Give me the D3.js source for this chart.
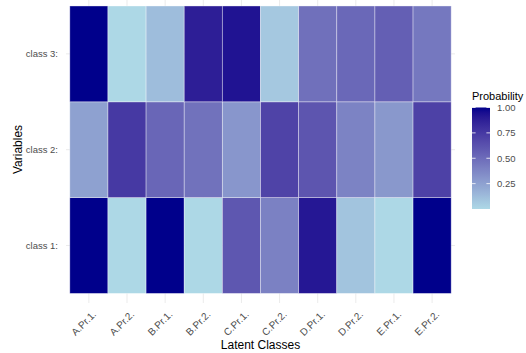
<!DOCTYPE html>
<html><head><meta charset="utf-8">
<script src="https://cdn.jsdelivr.net/npm/d3@7"></script>
<style>body{margin:0;background:#fff;}svg{display:block;font-family:"Liberation Sans",Arial,sans-serif;}</style>
</head><body>
<svg id="c" width="526" height="353"></svg>
<script>
const categories = ["A.Pr.1.","A.Pr.2.","B.Pr.1.","B.Pr.2.","C.Pr.1.","C.Pr.2.","D.Pr.1.","D.Pr.2.","E.Pr.1.","E.Pr.2."];
const classes = ["class 1:","class 2:","class 3:"];
const class1 = [1.00,0.00,1.00,0.00,0.60,0.40,0.91,0.09,0.00,1.00];
const class2 = [0.25,0.75,0.53,0.47,0.30,0.70,0.61,0.39,0.29,0.71];
const class3 = [1.00,0.00,0.12,0.88,0.93,0.07,0.48,0.52,0.56,0.44];
const legendTicks = [0.25,0.50,0.75,1.00];

const rows = [class1,class2,class3];
const cells = [];
rows.forEach((r,i)=>r.forEach((v,j)=>cells.push({x:categories[j],y:classes[i],v})));

const svg = d3.select("#c");
const panel = {l:66,r:455,t:-3.6,b:303};
const nX = categories.length, nY = classes.length;
const xs = d3.scaleLinear().domain([0.4,nX+0.6]).range([panel.l,panel.r]);
const ys = d3.scaleLinear().domain([0.4,nY+0.6]).range([panel.b,panel.t]);
const xi = d => categories.indexOf(d)+1;
const yi = d => classes.indexOf(d)+1;

const ext = d3.extent(cells, d=>d.v);
const color = d3.scaleLinear().domain(ext).range(["lightblue","darkblue"]).interpolate(d3.interpolateLab);

// gridlines
const g = svg.append("g");
categories.forEach(c=>g.append("line").attr("x1",xs(xi(c))).attr("x2",xs(xi(c))).attr("y1",panel.t).attr("y2",panel.b).attr("stroke","#ebebeb").attr("stroke-width",1));
classes.forEach(c=>g.append("line").attr("y1",ys(yi(c))).attr("y2",ys(yi(c))).attr("x1",panel.l).attr("x2",panel.r).attr("stroke","#ebebeb").attr("stroke-width",1));

// tiles
svg.append("g").selectAll("rect").data(cells).join("rect")
  .attr("x",d=>xs(xi(d.x)-0.5)).attr("width",xs(1.5)-xs(0.5))
  .attr("y",d=>ys(yi(d.y)+0.5)).attr("height",ys(0.5)-ys(1.5))
  .attr("fill",d=>color(d.v))
  .attr("stroke","rgba(255,255,255,0.45)").attr("stroke-width",0.8);

// y labels
svg.append("g").selectAll("text").data(classes).join("text")
  .attr("x",panel.l-8).attr("y",d=>ys(yi(d))).attr("dy","0.35em")
  .attr("text-anchor","end").attr("font-size",9.5).attr("fill","#4d4d4d").text(d=>d);

// x labels
svg.append("g").selectAll("text").data(categories).join("text")
  .attr("transform",d=>`translate(${xs(xi(d))+3},${panel.b+7}) rotate(-45)`)
  .attr("text-anchor","end").attr("dy","0.7em").attr("font-size",10).attr("fill","#4d4d4d").text(d=>d);

// axis titles
svg.append("text").attr("x",(panel.l+panel.r)/2).attr("y",349).attr("text-anchor","middle").attr("font-size",12).attr("fill","#000").text("Latent Classes");
svg.append("text").attr("transform",`translate(22,${(6+293)/2}) rotate(-90)`).attr("text-anchor","middle").attr("font-size",12).attr("fill","#000").text("Variables");

// legend
const lg = {x:472,w:18,t:107.5,b:209};
const ls = d3.scaleLinear().domain(ext).range([lg.b,lg.t]);
const defs = svg.append("defs");
const grad = defs.append("linearGradient").attr("id","gr").attr("x1",0).attr("y1",1).attr("x2",0).attr("y2",0);
d3.range(0,1.0001,0.05).forEach(t=>grad.append("stop").attr("offset",t).attr("stop-color",color(ext[0]+t*(ext[1]-ext[0]))));
svg.append("text").attr("x",lg.x).attr("y",100).attr("font-size",11).attr("fill","#000").text("Probability");
svg.append("rect").attr("x",lg.x).attr("y",lg.t).attr("width",lg.w).attr("height",lg.b-lg.t).attr("fill","url(#gr)");
const lt = svg.append("g");
legendTicks.forEach(v=>{
  const y = ls(v);
  lt.append("line").attr("x1",lg.x).attr("x2",lg.x+3.6).attr("y1",y).attr("y2",y).attr("stroke","#fff").attr("stroke-width",0.8);
  lt.append("line").attr("x1",lg.x+lg.w-3.6).attr("x2",lg.x+lg.w).attr("y1",y).attr("y2",y).attr("stroke","#fff").attr("stroke-width",0.8);
  lt.append("text").attr("x",lg.x+lg.w+7).attr("y",y).attr("dy","0.35em").attr("font-size",9.5).attr("fill","#4d4d4d").text(d3.format(".2f")(v));
});
</script>
</body></html>
